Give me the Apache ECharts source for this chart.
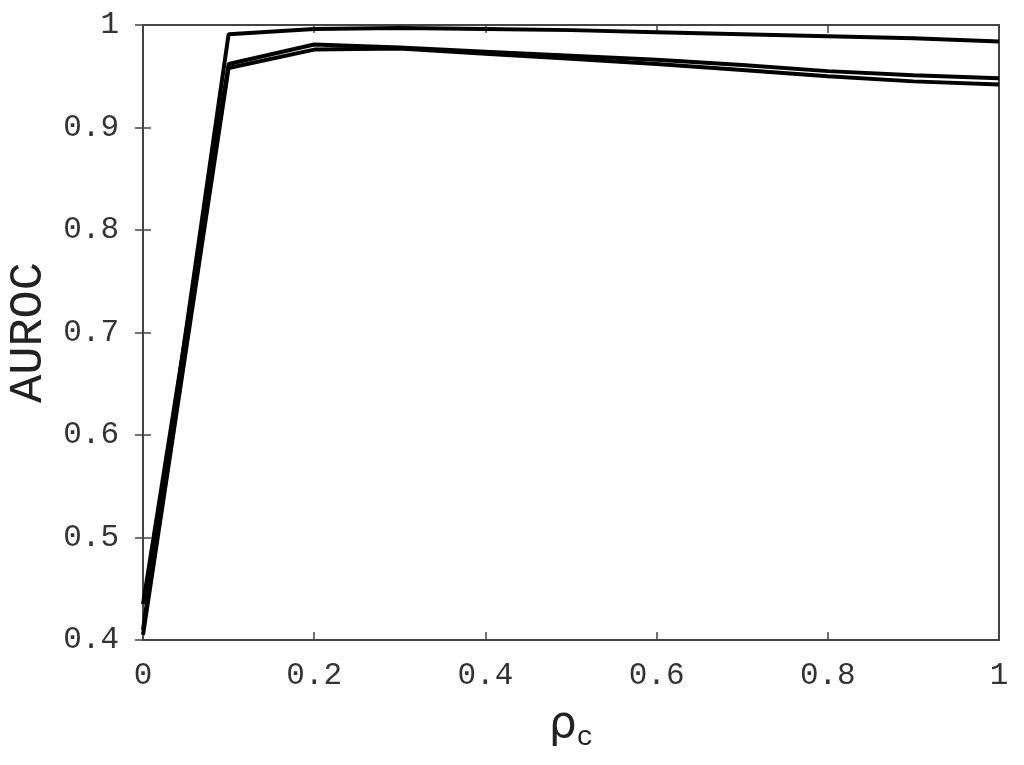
<!DOCTYPE html>
<html>
<head>
<meta charset="utf-8">
<script src="https://cdn.jsdelivr.net/npm/echarts@6/dist/echarts.min.js"></script>
<style>
  html, body { margin: 0; padding: 0; background: #fff; }
  #chart { width: 1024px; height: 765px; }
</style>
</head>
<body>
<div id="chart"></div>
<script>
const rhoValues = [0, 0.1, 0.2, 0.3, 0.4, 0.5, 0.6, 0.7, 0.8, 0.9, 1.0]
const aurocTop = [0.410, 0.991, 0.996, 0.997, 0.996, 0.995, 0.993, 0.991, 0.989, 0.987, 0.984]
const aurocMidA = [0.435, 0.962, 0.981, 0.978, 0.974, 0.970, 0.966, 0.961, 0.955, 0.951, 0.948]
const aurocMidB = [0.405, 0.958, 0.976, 0.977, 0.972, 0.967, 0.962, 0.956, 0.950, 0.945, 0.942]

const monoFont = '"Liberation Mono", "DejaVu Sans Mono", monospace'
const frameColor = '#444'

function pairs(ys) {
  return rhoValues.map((x, i) => [x, ys[i]])
}

function lineSeries(ys) {
  return {
    type: 'line',
    data: pairs(ys),
    showSymbol: false,
    symbol: 'none',
    lineStyle: { color: '#000', width: 4 },
    animation: false,
  }
}

const tickLabel = {
  fontFamily: monoFont,
  fontSize: 31,
  color: '#333',
}

const chart = echarts.init(document.getElementById('chart'))
chart.setOption({
  backgroundColor: '#fff',
  grid: {
    left: 143,
    right: 25,
    top: 25,
    bottom: 125,
    containLabel: false,
    outerBoundsMode: 'none',
    show: true,
    borderColor: frameColor,
    borderWidth: 2,
  },
  xAxis: [
    {
      type: 'value',
      min: 0,
      max: 1,
      interval: 0.2,
      position: 'bottom',
      axisLine: { show: false },
      axisTick: { inside: true, length: 8, lineStyle: { color: frameColor, width: 1.5 } },
      splitLine: { show: false },
      axisLabel: { ...tickLabel, margin: 20 },
      name: '{rho|ρ}{sub|c}',
      nameLocation: 'middle',
      nameGap: 60,
      nameTextStyle: {
        rich: {
          rho: { fontFamily: '"DejaVu Sans", sans-serif', fontSize: 44, color: '#222' },
          sub: { fontFamily: monoFont, fontSize: 28, color: '#222', padding: [24, 0, 0, 0] },
        },
      },
    },
    {
      type: 'value',
      min: 0,
      max: 1,
      interval: 0.2,
      position: 'top',
      axisLine: { show: false },
      axisTick: { inside: true, length: 8, lineStyle: { color: frameColor, width: 1.5 } },
      splitLine: { show: false },
      axisLabel: { show: false },
    },
  ],
  yAxis: [
    {
      type: 'value',
      min: 0.4,
      max: 1,
      interval: 0.1,
      position: 'left',
      axisLine: { show: false },
      axisTick: { inside: true, length: 8, lineStyle: { color: frameColor, width: 1.5 } },
      splitLine: { show: false },
      axisLabel: {
        ...tickLabel,
        margin: 24,
        formatter: (v) => (Math.abs(v - 1) < 1e-9 ? '1' : v.toFixed(1)),
      },
      name: 'AUROC',
      nameLocation: 'middle',
      nameRotate: 90,
      nameGap: 89,
      nameTextStyle: { fontFamily: monoFont, fontSize: 47, color: '#222' },
    },
    {
      type: 'value',
      min: 0.4,
      max: 1,
      interval: 0.1,
      position: 'right',
      axisLine: { show: false },
      axisTick: { inside: true, length: 8, lineStyle: { color: frameColor, width: 1.5 } },
      splitLine: { show: false },
      axisLabel: { show: false },
    },
  ],
  series: [
    lineSeries(aurocMidB),
    lineSeries(aurocMidA),
    lineSeries(aurocTop),
  ],
})
</script>
</body>
</html>
